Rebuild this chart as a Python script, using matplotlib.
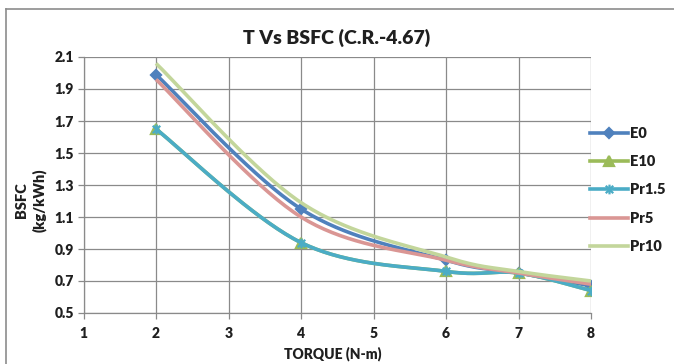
import numpy as np
import matplotlib
matplotlib.use("Agg")
import matplotlib.pyplot as plt
from matplotlib.path import Path
from matplotlib.lines import Line2D

# Torque (N-m) and brake specific fuel consumption (kg/kWh) per fuel blend
torque = [2, 4, 6, 7, 8]
bsfc_e0 = [1.99, 1.15, 0.83, 0.75, 0.67]
bsfc_e10 = [1.65, 0.94, 0.76, 0.75, 0.64]
bsfc_pr15 = [1.65, 0.94, 0.76, 0.75, 0.64]
bsfc_pr5 = [1.96, 1.10, 0.83, 0.75, 0.68]
bsfc_pr10 = [2.06, 1.19, 0.85, 0.76, 0.70]

series_names = ["E0", "E10", "Pr1.5", "Pr5", "Pr10"]
x_ticks = [1, 2, 3, 4, 5, 6, 7, 8]
y_ticks = [0.5, 0.7, 0.9, 1.1, 1.3, 1.5, 1.7, 1.9, 2.1]

FONT = ["Lato", "DejaVu Sans"]
TEXT_C = "#1f1f1f"
GRID_C = "#8a8a8a"

W, H = 674, 364
fig = plt.figure(figsize=(W / 100, H / 100), dpi=100)
fig.patch.set_facecolor("white")

# outer chart frame (left and top edges)
fig.add_artist(Line2D([6 / W, 6 / W], [0, 1 - 9 / H], transform=fig.transFigure,
                      color="#8c8c8c", lw=1.2))
fig.add_artist(Line2D([6 / W, 1], [1 - 9 / H, 1 - 9 / H], transform=fig.transFigure,
                      color="#8c8c8c", lw=1.2))

left, right = 83.5 / W, 591 / W
bottom, top = 1 - 313 / H, 1 - 57 / H
ax = fig.add_axes([left, bottom, right - left, top - bottom])
ax.set_xlim(1, 8)
ax.set_ylim(0.5, 2.1)
ax.set_xticks(x_ticks)
ax.set_yticks(y_ticks)
ax.set_yticklabels([f"{v:.1f}" for v in y_ticks])
ax.grid(True, color=GRID_C, lw=0.9)
ax.set_axisbelow(True)
for s in ["top", "right"]:
    ax.spines[s].set_visible(False)
for s in ["left", "bottom"]:
    ax.spines[s].set_color(GRID_C)
    ax.spines[s].set_linewidth(0.9)
ax.tick_params(axis="both", direction="out", length=4, width=0.9, color=GRID_C,
               labelsize=10, labelcolor=TEXT_C, pad=3)
ax.tick_params(axis="x", pad=6)
for lab in ax.get_xticklabels() + ax.get_yticklabels():
    lab.set_fontfamily(FONT)
    lab.set_fontweight("heavy")


def smooth_curve(xs, ys, n=40):
    """Excel-style smoothed line: cubic Bezier segments built in display space."""
    pts = ax.transData.transform(np.column_stack([xs, ys]))
    out = [pts[0]]
    m = len(pts)
    for i in range(m - 1):
        p0 = pts[i - 1] if i > 0 else pts[i]
        p1 = pts[i]
        p2 = pts[i + 1]
        p3 = pts[i + 2] if i + 2 < m else pts[i + 1]
        c1 = p1 + (p2 - p0) / 6.0
        c2 = p2 - (p3 - p1) / 6.0
        t = np.linspace(0, 1, n)[1:, None]
        seg = ((1 - t) ** 3) * p1 + 3 * ((1 - t) ** 2) * t * c1 \
            + 3 * (1 - t) * t ** 2 * c2 + t ** 3 * p2
        out.extend(seg)
    data = ax.transData.inverted().transform(np.array(out))
    return data[:, 0], data[:, 1]


# asterisk marker: cross plus vertical bar
star_path = Path(
    [(-1, -1), (1, 1), (-1, 1), (1, -1), (0, -1.3), (0, 1.3)],
    [Path.MOVETO, Path.LINETO, Path.MOVETO, Path.LINETO, Path.MOVETO, Path.LINETO],
)

styles = [
    dict(color="#4F81BD", marker="D", ms=5.5),
    dict(color="#9BBB59", marker="^", ms=6.5),
    dict(color="#4BACC6", marker=star_path, ms=7),
    dict(color="#DA9694", marker=None, ms=0),
    dict(color="#C3D69B", marker=None, ms=0),
]
all_series = [bsfc_e0, bsfc_e10, bsfc_pr15, bsfc_pr5, bsfc_pr10]

handles = []
for k, (name, ys, st) in enumerate(zip(series_names, all_series, styles)):
    sx, sy = smooth_curve(torque, ys)
    z = 3 + k * 0.1
    ax.plot(sx, sy, color=st["color"], lw=2.6, solid_capstyle="butt", zorder=z)
    if st["marker"] is not None:
        ax.plot(torque, ys, ls="none", marker=st["marker"], ms=st["ms"],
                color=st["color"], mec=st["color"], mew=1.6, zorder=z + 0.05)
    handles.append(Line2D([], [], color=st["color"], lw=2.6,
                          marker=st["marker"], ms=st["ms"], mec=st["color"], mew=1.6))

leg = fig.legend(handles, series_names, loc="center left",
                 bbox_to_anchor=(590 / W, 1 - 190 / H), bbox_transform=fig.transFigure,
                 frameon=False, handlelength=2.6, handletextpad=0.12, labelspacing=1.05,
                 borderpad=0, borderaxespad=0, markerscale=1.0,
                 prop=dict(family=FONT, weight="heavy", size=10.5))
for t in leg.get_texts():
    t.set_color(TEXT_C)

fig.text(337 / W, 1 - 38 / H, "T Vs BSFC (C.R.-4.67)", ha="center", va="center",
         fontsize=14, fontweight="heavy", family=FONT, color=TEXT_C)
fig.text(333 / W, 1 - 354 / H, "TORQUE (N-m)", ha="center", va="center",
         fontsize=10, fontweight="heavy", family=FONT, color=TEXT_C)
fig.text(31 / W, 1 - 200 / H, "BSFC\n(kg/kWh)", ha="center", va="center",
         rotation=90, fontsize=10.5, fontweight="heavy", family=FONT, color=TEXT_C,
         linespacing=1.35, multialignment="center")

fig.savefig("out.png", dpi=100)
